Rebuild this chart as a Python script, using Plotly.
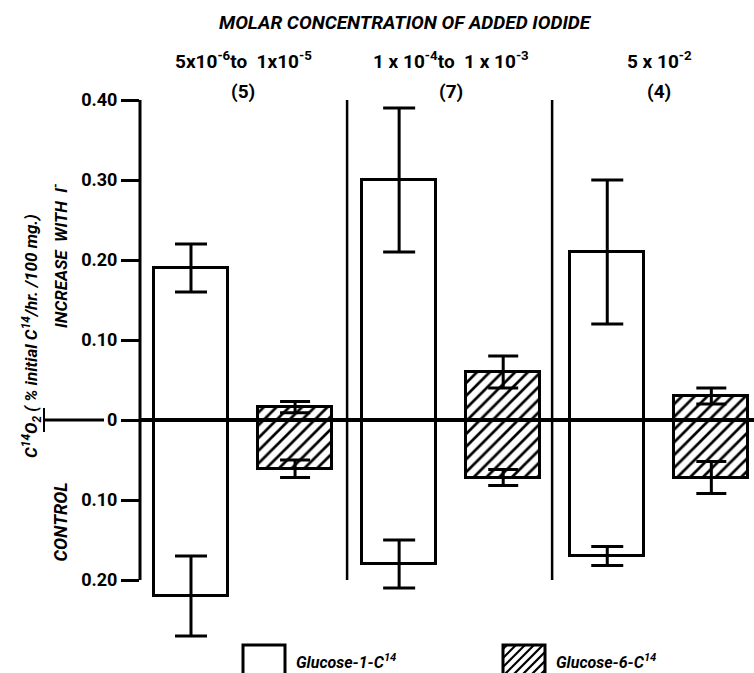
import plotly.graph_objects as go

# ---- data ----
group_labels = ["5x10<sup>-6</sup>to  1x10<sup>-5</sup>",
                "1 x 10<sup>-4</sup>to  1 x 10<sup>-3</sup>",
                "5 x 10<sup>-2</sup>"]
group_n = ["(5)", "(7)", "(4)"]

g1_increase = [0.19, 0.30, 0.21]
g1_increase_err = [0.03, 0.09, 0.09]
g1_control = [0.22, 0.18, 0.17]
g1_control_err = [0.05, 0.03, 0.012]

g6_increase = [0.016, 0.06, 0.03]
g6_increase_err = [0.007, 0.02, 0.01]
g6_control = [0.061, 0.072, 0.072]
g6_control_err = [0.011, 0.01, 0.02]

tick_vals = [-0.2, -0.1, 0, 0.1, 0.2, 0.3, 0.4]
tick_text = ["0.20", "0.10", "0", "0.10", "0.20", "0.30", "0.40"]

legend_names = ["Glucose-1-C<sup>14</sup>", "Glucose-6-C<sup>14</sup>"]

# ---- layout constants ----
W, H = 754, 673
ML, MR, MT, MB = 140, 0, 60, 3
PW, PH = W - ML - MR, H - MT - MB
FONT = "Roboto, Liberation Sans, DejaVu Sans, sans-serif"
BAR_W = 0.71


def px_x(px):
    return (px - ML) / PW


def px_y(py):
    return (H - MB - py) / PH


g1_x = [2 * i for i in range(len(group_labels))]
g6_x = [2 * i + 1 for i in range(len(group_labels))]

err_style = dict(type="data", visible=True, color="black", thickness=3)
line_style = dict(color="black", width=3)
hatch = dict(shape="/", fgcolor="black", bgcolor="white", size=9, solidity=0.3, fillmode="replace")

fig = go.Figure()
fig.add_trace(go.Bar(x=g1_x, y=g1_increase, width=BAR_W,
                     marker=dict(color="white", line=line_style),
                     error_y=dict(array=g1_increase_err, width=16, **err_style),
                     name=legend_names[0], showlegend=False))
fig.add_trace(go.Bar(x=g1_x, y=[-v for v in g1_control], width=BAR_W,
                     marker=dict(color="white", line=line_style),
                     error_y=dict(array=g1_control_err, width=16, **err_style),
                     name=legend_names[0], showlegend=False))
fig.add_trace(go.Bar(x=g6_x, y=g6_increase, width=BAR_W,
                     marker=dict(color="white", line=line_style, pattern=hatch),
                     error_y=dict(array=g6_increase_err, width=15, **err_style),
                     name=legend_names[1], showlegend=False))
fig.add_trace(go.Bar(x=g6_x, y=[-v for v in g6_control], width=BAR_W,
                     marker=dict(color="white", line=line_style, pattern=hatch),
                     error_y=dict(array=g6_control_err, width=15, **err_style),
                     name=legend_names[1], showlegend=False))

shapes = []
# y axis line (bracket from 0.40 to 0.20)
shapes.append(dict(type="line", xref="paper", yref="y", x0=0, x1=0,
                   y0=tick_vals[0], y1=tick_vals[-1], line=dict(color="black", width=3)))
# zero line across the plot (drawn over bars)
shapes.append(dict(type="line", xref="paper", yref="y", x0=0, x1=1, y0=0, y1=0,
                   line=dict(color="black", width=4), layer="above"))
# zero line continuing left of the "0" label
shapes.append(dict(type="line", xref="paper", yref="y", x0=px_x(44), x1=px_x(104), y0=0, y1=0,
                   line=dict(color="black", width=3)))
shapes.append(dict(type="line", xref="paper", yref="y", x0=px_x(44), x1=px_x(44), y0=-0.015, y1=0.015,
                   line=dict(color="black", width=2)))
# group separators
for sx in [1.5, 3.47]:
    shapes.append(dict(type="line", xref="x", yref="y", x0=sx, x1=sx, y0=tick_vals[0], y1=tick_vals[-1],
                       line=dict(color="black", width=2.5)))

# legend swatches
box1 = (243, 645, 285, 680)
box2 = (503, 645, 545, 680)
for (x0, y0, x1, y1) in [box1, box2]:
    shapes.append(dict(type="rect", xref="paper", yref="paper",
                       x0=px_x(x0), x1=px_x(x1), y0=px_y(y1), y1=px_y(y0),
                       line=dict(color="black", width=3), fillcolor="white"))
# hatch for second swatch
x0, y0, x1, y1 = box2
k = x0 + y0 + 4
while k < x1 + y1:
    ax = max(x0, k - y1)
    bx = min(x1, k - y0)
    if bx > ax:
        shapes.append(dict(type="line", xref="paper", yref="paper",
                           x0=px_x(ax), y0=px_y(k - ax), x1=px_x(bx), y1=px_y(k - bx),
                           line=dict(color="black", width=2.2)))
    k += 9

annotations = []
annotations.append(dict(text="MOLAR CONCENTRATION OF ADDED IODIDE", xref="paper", yref="paper",
                        x=px_x(405), y=px_y(22), showarrow=False, xanchor="center", yanchor="middle",
                        font=dict(family=FONT, size=19, color="black", weight="bold", style="italic")))
for i in range(len(group_labels)):
    cx = (g1_x[i] + g6_x[i]) / 2
    annotations.append(dict(text=group_labels[i], xref="x", yref="paper", x=cx, y=px_y(61),
                            showarrow=False, xanchor="center", yanchor="middle",
                            font=dict(family=FONT, size=19, color="black", weight="bold")))
    annotations.append(dict(text=group_n[i], xref="x", yref="paper", x=cx, y=px_y(91),
                            showarrow=False, xanchor="center", yanchor="middle",
                            font=dict(family=FONT, size=19, color="black", weight="bold")))

annotations.append(dict(text="C<sup>14</sup>O<sub>2</sub> ( % initial C<sup>14</sup>/hr. /100 mg.)",
                        xref="paper", yref="y", x=px_x(31), y=0.105, textangle=-90,
                        showarrow=False, xanchor="center", yanchor="middle",
                        font=dict(family=FONT, size=17, color="black", weight="bold", style="italic")))
annotations.append(dict(text="INCREASE  WITH  I<sup>-</sup>", xref="paper", yref="y", x=px_x(60), y=0.205,
                        textangle=-90, showarrow=False, xanchor="center", yanchor="middle",
                        font=dict(family=FONT, size=17, color="black", weight="bold", style="italic")))
annotations.append(dict(text="CONTROL", xref="paper", yref="y", x=px_x(60), y=-0.128,
                        textangle=-90, showarrow=False, xanchor="center", yanchor="middle",
                        font=dict(family=FONT, size=18, color="black", weight="bold", style="italic")))
for name, bx in zip(legend_names, [box1, box2]):
    annotations.append(dict(text=name, xref="paper", yref="paper", x=px_x(bx[2] + 9), y=px_y(661),
                            showarrow=False, xanchor="left", yanchor="middle",
                            font=dict(family=FONT, size=16, color="black", weight="bold", style="italic")))

fig.update_layout(
    width=W, height=H,
    margin=dict(l=ML, r=MR, t=MT, b=MB),
    paper_bgcolor="white", plot_bgcolor="white",
    barmode="overlay", bargap=0,
    showlegend=False,
    xaxis=dict(range=[-0.49, 5.41], visible=False, fixedrange=True),
    yaxis=dict(range=[-0.3125, 0.45], tickvals=tick_vals, ticktext=tick_text,
               ticks="outside", ticklen=18, tickwidth=3, tickcolor="black",
               showline=False, showgrid=False, zeroline=False, ticklabelstandoff=0,
               tickfont=dict(family=FONT, size=18, color="black", weight="bold")),
    shapes=shapes, annotations=annotations,
)

fig.write_html("out.html")
